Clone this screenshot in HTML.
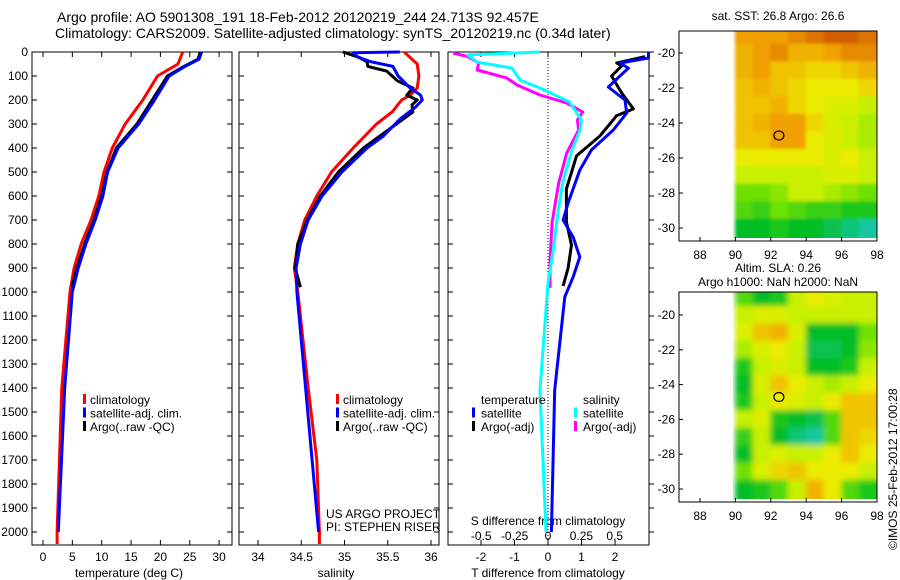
<!DOCTYPE html>
<html><head><meta charset="utf-8"><style>
html,body{margin:0;padding:0;background:#fff;width:900px;height:580px;overflow:hidden}
svg{display:block;font-family:"Liberation Sans",sans-serif;font-size:12px}
text{fill:#000}
</style></head><body>
<svg id="fig" width="900" height="580" viewBox="0 0 900 580" xmlns="http://www.w3.org/2000/svg">
<defs><filter id="blur" x="-5%" y="-5%" width="110%" height="110%"><feGaussianBlur stdDeviation="3"/></filter>
<filter id="blur2" x="-5%" y="-5%" width="110%" height="110%"><feGaussianBlur stdDeviation="1.5"/></filter></defs>
<text x="57" y="22" font-size="14">Argo profile: AO 5901308_191 18-Feb-2012 20120219_244 24.713S 92.457E</text>
<text x="55" y="38" font-size="14">Climatology: CARS2009. Satellite-adjusted climatology: synTS_20120219.nc (0.34d later)</text>
<text x="778" y="20" text-anchor="middle">sat. SST: 26.8 Argo: 26.6</text>
<text x="778" y="272" text-anchor="middle">Altim. SLA: 0.26</text>
<text x="778" y="286" text-anchor="middle">Argo h1000: NaN h2000: NaN</text>
<text transform="translate(897,550) rotate(-90)">©IMOS 25-Feb-2012 17:00:28</text>
<text x="326" y="518">US ARGO PROJECT</text>
<text x="326" y="531">PI: STEPHEN RISER</text>
<g id="g"></g>
</svg>
<script>
// ---- profile data ----
const depthTicks=[0,100,200,300,400,500,600,700,800,900,1000,1100,1200,1300,1400,1500,1600,1700,1800,1900,2000];
const tempTicks=[0,5,10,15,20,25,30];
const salTicks=[34,34.5,35,35.5,36];
const tdiffTicks=[-2,-1,0,1,2];
const sdiffTicks=[-0.5,-0.25,0,0.25,0.5];

const tClimDepth=[0,50,100,200,300,400,500,600,700,800,900,1000,1400,2000,2050];
const tClimVal=[23.8,23,19.5,17,14,11.8,10.4,9.5,8.2,6.5,5.3,4.6,3.2,2.4,2.4];
const tSatDepth=[0,30,60,100,200,300,400,500,600,700,800,900,1000,1400,2000];
const tSatVal=[27,26.6,24.2,21.5,19,16.3,12.8,11,10.2,8.9,7.3,6,5,3.7,2.6];
const tArgoDepth=[0,30,60,100,200,300,400,500,600,700,800,900,980];
const tArgoVal=[26.8,26.4,24,21.2,18.6,16,12.5,10.9,10,8.7,7.1,5.8,4.9];

const sClimDepth=[0,50,100,150,180,200,250,300,400,500,600,700,800,900,1000,1400,1700,2000,2050];
const sClimVal=[35.69,35.84,35.86,35.84,35.76,35.66,35.55,35.37,35.1,34.85,34.68,34.54,34.46,34.42,34.46,34.58,34.68,34.71,34.71];
const sSatDepth=[0,3,20,40,60,100,150,180,200,230,280,350,400,500,600,700,800,900,1000,1400,2000];
const sSatVal=[35.64,35.1,35.15,35.3,35.56,35.62,35.76,35.88,35.9,35.82,35.64,35.45,35.26,34.97,34.74,34.58,34.49,34.44,34.45,34.55,34.7];
const sArgoDepth=[0,20,40,60,80,100,120,150,180,200,220,250,300,400,500,600,700,800,900,980];
const sArgoVal=[34.98,35.15,35.26,35.27,35.49,35.55,35.61,35.79,35.72,35.84,35.78,35.79,35.6,35.22,34.93,34.72,34.57,34.46,34.43,34.49];

const dtSatDepth=[0,25,46,67,146,200,254,325,408,492,629,700,771,854,938,1020,1408,2000];
const dtSatVal=[3.0,3.0,2.15,2.4,1.8,2.3,2.35,1.95,1.3,0.95,0.6,0.45,0.75,0.95,0.75,0.5,0.2,0.1];
const dtArgoDepth=[19,46,58,100,171,237,265,350,433,571,708,804,900,975];
const dtArgoVal=[2.9,2.05,2.2,1.9,2.2,2.55,2.05,1.55,0.85,0.55,0.55,0.7,0.6,0.45];
const dsSatDepth=[0,12,42,67,117,150,208,283,325,408,546,688,825,962,1408,2000];
const dsSatVal=[-0.06,-0.6,-0.53,-0.27,-0.21,-0.06,0.16,0.25,0.24,0.18,0.11,0.07,0.04,0,-0.06,-0.015];
const dsArgoDepth=[4,19,46,75,108,138,179,213,250,283,325,421,546,712,875,983];
const dsArgoVal=[-0.71,-0.6,-0.52,-0.53,-0.31,-0.23,-0.06,0.14,0.26,0.22,0.23,0.14,0.08,0.03,0.015,0.015];

// ---- map data (0=green/teal .. 1=dark orange), rows lat -19..-30, cols lon 90..97 ----
const sstGrid=[
[0.8,0.8,0.8,0.85,0.9,0.95,0.95,0.9],
[0.75,0.8,0.85,0.75,0.75,0.8,0.85,0.85],
[0.75,0.8,0.7,0.7,0.65,0.65,0.7,0.75],
[0.7,0.75,0.7,0.65,0.6,0.6,0.6,0.65],
[0.7,0.7,0.75,0.65,0.6,0.55,0.55,0.5],
[0.7,0.75,0.8,0.8,0.65,0.55,0.5,0.45],
[0.7,0.7,0.8,0.8,0.6,0.55,0.5,0.45],
[0.6,0.6,0.6,0.6,0.6,0.55,0.6,0.5],
[0.5,0.5,0.5,0.5,0.5,0.55,0.55,0.5],
[0.35,0.35,0.4,0.5,0.5,0.45,0.4,0.35],
[0.3,0.25,0.35,0.3,0.25,0.25,0.2,0.2],
[0.15,0.15,0.2,0.15,0.15,0.1,0.05,0.0]];
const slaGrid=[
[0.3,0.15,0.2,0.5,0.6,0.55,0.5,0.5],
[0.5,0.55,0.55,0.5,0.5,0.5,0.5,0.5],
[0.55,0.7,0.75,0.55,0.15,0.15,0.15,0.35],
[0.45,0.55,0.6,0.5,0.1,0.1,0.15,0.4],
[0.2,0.5,0.55,0.5,0.15,0.15,0.2,0.5],
[0.15,0.55,0.7,0.6,0.5,0.45,0.5,0.6],
[0.2,0.5,0.6,0.55,0.5,0.6,0.7,0.7],
[0.5,0.55,0.2,0.15,0.1,0.3,0.7,0.7],
[0.25,0.5,0.15,0.05,0.0,0.3,0.7,0.65],
[0.15,0.5,0.55,0.5,0.5,0.6,0.7,0.6],
[0.35,0.55,0.65,0.7,0.6,0.6,0.6,0.5],
[0.15,0.2,0.3,0.5,0.75,0.6,0.3,0.2]];
const lonTicks=[88,90,92,94,96,98];
const latTicks=[-20,-22,-24,-26,-28,-30];
const argoLon=92.457, argoLat=-24.713;

const NS="http://www.w3.org/2000/svg";
const G=document.getElementById('g');
function mk(tag,attrs,parent){const e=document.createElementNS(NS,tag);for(const k in attrs)e.setAttribute(k,attrs[k]);(parent||G).appendChild(e);return e;}
const yD=d=>52+d*0.24;
const xT=v=>43+v*5.87;
const xS=v=>258+(v-34)*86.5;
const xDT=v=>548+v*33.5;
const xDS=v=>548+v*133.5;

function frame(x0,x1,name,rightOut){
  const r=mk('rect',{x:x0,y:52,width:x1-x0,height:493,fill:'none',stroke:'#000','stroke-width':1});
  
  
  depthTicks.forEach(d=>{
    mk('line',{x1:x0,x2:x0+5,y1:yD(d),y2:yD(d),stroke:'#000'});
    if(rightOut) mk('line',{x1:x1,x2:x1+5,y1:yD(d),y2:yD(d),stroke:'#000'});
    else mk('line',{x1:x1-5,x2:x1,y1:yD(d),y2:yD(d),stroke:'#000'});
  });
}
function xticks(ticks,fx,y,name,fmt){
  ticks.forEach(v=>{
    const x=fx(v);
    mk('line',{x1:x,x2:x,y1:52,y2:57,stroke:'#000'});
    mk('line',{x1:x,x2:x,y1:540,y2:545,stroke:'#000'});
    const t=mk('text',{x:x,y:y,'text-anchor':'middle'});
    t.textContent=fmt?fmt(v):String(v);
    
    
  });
}
function series(depths,vals,fx,color,name,w){
  const pts=depths.map((d,i)=>fx(vals[i]).toFixed(1)+','+yD(d).toFixed(1)).join(' ');
  const p=mk('polyline',{points:pts,fill:'none',stroke:color,'stroke-width':w||3,'stroke-linejoin':'round'});
  
  
}
function label(x,y,s,name,anchor){
  const t=mk('text',{x:x,y:y,'text-anchor':anchor||'start'});
  t.textContent=s;
  
  
}
function legendBar(x,y,color,name){
  const r=mk('rect',{x:x,y:y-10,width:3,height:10,fill:color});
  
  
}

frame(32,232,'temperature-panel',false);
frame(239,439,'salinity-panel',false);
frame(448,649,'difference-panel',true);
depthTicks.forEach(d=>{
  const t=mk('text',{x:28,y:yD(d)+4,'text-anchor':'end'});
  t.textContent=String(d);
  
  
});
xticks(tempTicks,xT,561,'temperature-tick-label');
xticks(salTicks,xS,561,'salinity-tick-label');
xticks(tdiffTicks,xDT,561,'t-diff-tick-label');
sdiffTicks.forEach(v=>{const t=mk('text',{x:xDS(v),y:540,'text-anchor':'middle'});t.textContent=v===0?'0':String(v);
 
 });
label(129,577,'temperature (deg C)','x-axis-title-temperature','middle');
label(336,577,'salinity','x-axis-title-salinity','middle');
label(548,577,'T difference from climatology','x-axis-title-t-diff','middle');
label(548,525,'S difference from climatology','s-diff-axis-title','middle');

const z=mk('line',{x1:548,x2:548,y1:52,y2:545,stroke:'#000','stroke-dasharray':'1,2'});



series(tClimDepth,tClimVal,xT,'#ff0000','temp-climatology-line');
series(tArgoDepth,tArgoVal,xT,'#000000','temp-argo-line');
series(tSatDepth,tSatVal,xT,'#0000ff','temp-satellite-line');
series(sClimDepth,sClimVal,xS,'#ff0000','sal-climatology-line');
series(sArgoDepth,sArgoVal,xS,'#000000','sal-argo-line');
series(sSatDepth,sSatVal,xS,'#0000ff','sal-satellite-line');
series(dsArgoDepth,dsArgoVal,xDS,'#ff00ff','sdiff-argo-line');
series(dsSatDepth,dsSatVal,xDS,'#00ffff','sdiff-satellite-line');
series(dtArgoDepth,dtArgoVal,xDT,'#000000','tdiff-argo-line');
series(dtSatDepth,dtSatVal,xDT,'#0000ff','tdiff-satellite-line');

[['#ff0000','climatology'],['#0000ff','satellite-adj. clim.'],['#000000','Argo(..raw -QC)']].forEach((e,i)=>{
  legendBar(83,404+i*13.5,e[0],'legend-marker');
  label(90,404+i*13.5,e[1],'legend-entry');
  legendBar(336,404+i*13.5,e[0],'legend-marker');
  label(343,404+i*13.5,e[1],'legend-entry');
});
label(481,404,'temperature','legend-header-temperature');
label(583,404,'salinity','legend-header-salinity');
legendBar(472,417.5,'#0000ff','legend-marker');label(481,417.5,'satellite','legend-entry');
legendBar(472,431,'#000000','legend-marker');label(481,431,'Argo(-adj)','legend-entry');
legendBar(574,417.5,'#00ffff','legend-marker');label(583,417.5,'satellite','legend-entry');
legendBar(574,431,'#ff00ff','legend-marker');label(583,431,'Argo(-adj)','legend-entry');

const stops=[[0,[20,200,160]],[0.15,[0,190,40]],[0.35,[110,225,0]],[0.5,[200,240,0]],[0.6,[235,235,0]],[0.7,[240,195,0]],[0.8,[240,160,0]],[0.95,[210,95,0]],[1,[200,80,0]]];
function cmap(v){for(let i=1;i<stops.length;i++){if(v<=stops[i][0]){const a=stops[i-1],b=stops[i],t=(v-a[0])/(b[0]-a[0]);return 'rgb('+a[1].map((c,j)=>Math.round(c+(b[1][j]-c)*t)).join(',')+')';}}return 'rgb(200,80,0)';}
function drawMap(grid,top,bot,latAt20,latAt30,name,labY,filt){
  const xL=lon=>700+(lon-88)*17.7;
  const yL=lat=>latAt20+(-20-lat)*(latAt30-latAt20)/10;
  const x0=679,x1=877;
  const clipId='clip'+name;
  const cp=mk('clipPath',{id:clipId});
  mk('rect',{x:733,y:top,width:x1-733,height:bot-3-top},cp);
  const outer=mk('g',{'clip-path':'url(#'+clipId+')'});
  const grp=mk('g',{filter:'url(#'+filt+')'},outer);
  
  
  const ch=yL(-21)-yL(-20);
  grid.forEach((row,r)=>row.forEach((v,c)=>{
    const lat=-19-r, lon=90+c;
    let y=yL(lat+0.5)-0.5, h=ch+1;
    if(r===0){y-=10;h+=10;}
    if(r===grid.length-1){h+=10;}
    let x=xL(lon)-0.5, w=18.7;
    if(c===row.length-1){w+=10;}
    const cell=mk('rect',{x:x,y:y,width:w,height:h,fill:cmap(v)},grp);
    
    
  }));
  const fr=mk('rect',{x:x0,y:top,width:x1-x0,height:bot-top,fill:'none',stroke:'#000'});
  
  
  lonTicks.forEach(l=>{mk('line',{x1:xL(l),x2:xL(l),y1:bot-4,y2:bot,stroke:'#000'});
    label(xL(l),labY,String(l),'lon-tick-label','middle');});
  latTicks.forEach(l=>{mk('line',{x1:x0,x2:x0+4,y1:yL(l),y2:yL(l),stroke:'#000'});
    label(675,yL(l)+4,String(l),'lat-tick-label','end');});
  const m=mk('ellipse',{cx:xL(argoLon),cy:yL(argoLat),rx:5,ry:4.5,fill:'none',stroke:'#000','stroke-width':1.2});
  
  
}
drawMap(sstGrid,31,241,53,228,'sst-map',259,'blur2');
drawMap(slaGrid,292,502,315,489,'sla-map',520,'blur');
</script>
</body></html>
